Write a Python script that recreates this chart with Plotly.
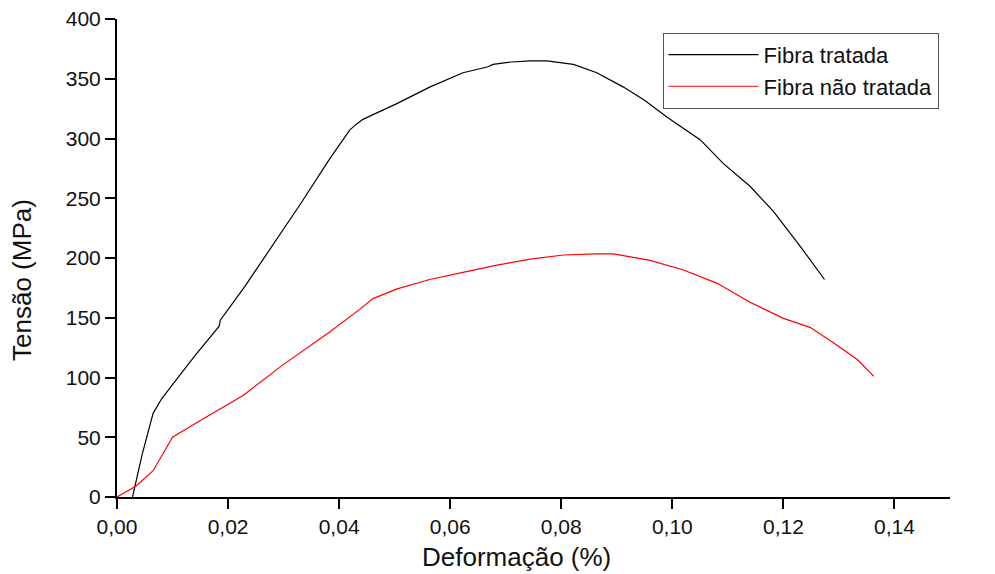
import plotly.graph_objects as go

# Fibra tratada (black)
x_tratada = [0.0028, 0.0045, 0.0065, 0.0080, 0.0100, 0.0140, 0.0184, 0.0186, 0.0230, 0.0275,
             0.0330, 0.0383, 0.0407, 0.0419, 0.0431, 0.0443, 0.0461, 0.0503, 0.0563, 0.0623,
             0.0668, 0.0677, 0.0710, 0.0744, 0.0774, 0.0822, 0.0864, 0.0912, 0.0950, 0.0990,
             0.1050, 0.1092, 0.1140, 0.1182, 0.1230, 0.1274]
y_tratada = [0, 35, 70, 82, 94, 118, 143, 148, 176, 207,
             245, 283, 299, 307, 312, 316, 320, 329, 343, 355,
             360, 362, 364, 365, 365, 362, 355, 343, 332, 318,
             299, 279, 260, 239, 210, 182]

# Fibra não tratada (red)
x_nao = [0.0000, 0.0035, 0.0065, 0.0080, 0.0100, 0.0150, 0.0227, 0.0300, 0.0383, 0.0437,
         0.0461, 0.0503, 0.0563, 0.0623, 0.0684, 0.0744, 0.0804, 0.0864, 0.0894, 0.0960,
         0.1020, 0.1080, 0.1140, 0.1200, 0.1248, 0.1290, 0.1333, 0.1363]
y_nao = [0, 9.5, 22, 34, 50, 64, 85, 111, 138, 157,
         166, 174, 182, 188, 194, 199, 202.5, 203.5, 203.5, 198,
         190, 179, 163, 149.5, 142, 129, 115, 101]

x_ticks = [0, 0.02, 0.04, 0.06, 0.08, 0.10, 0.12, 0.14]
y_ticks = [0, 50, 100, 150, 200, 250, 300, 350, 400]

x_title = "Deformação (%)"
y_title = "Tensão (MPa)"

font_family = "Liberation Sans, Arial, sans-serif"

fig = go.Figure()
fig.add_trace(go.Scatter(x=x_tratada, y=y_tratada, mode="lines", name="Fibra tratada",
                         line=dict(color="#000000", width=1.2)))
fig.add_trace(go.Scatter(x=x_nao, y=y_nao, mode="lines", name="Fibra não tratada",
                         line=dict(color="#ff0000", width=1.2)))

axis_common = dict(showline=True, linecolor="black", linewidth=2, ticks="outside",
                   ticklen=10, tickwidth=2, tickcolor="black", showgrid=False, zeroline=False,
                   tickfont=dict(family=font_family, size=21, color="#111"),
                   ticklabeloverflow="allow",
                   mirror=False, automargin=False)

fig.update_layout(
    width=995, height=574,
    paper_bgcolor="white", plot_bgcolor="white",
    margin=dict(l=109, r=53, t=11, b=85),
    separators=",.",
    font=dict(family=font_family),
    xaxis=dict(range=[0, 0.15], tickvals=x_ticks, tickformat=".2f", **axis_common),
    yaxis=dict(range=[0, 400], tickvals=y_ticks, **axis_common),
    legend=dict(x=0.655, y=0.971, xanchor="left", yanchor="top",
                bordercolor="#555", borderwidth=1, bgcolor="white",
                font=dict(family=font_family, size=22, color="#111"),
                itemwidth=90, tracegroupgap=0),
    showlegend=True,
    annotations=[
        dict(text=x_title, xref="paper", yref="paper", x=0.48, y=0, yshift=-60,
             xanchor="center", yanchor="middle", showarrow=False,
             font=dict(family=font_family, size=26, color="#111")),
        dict(text=y_title, xref="paper", yref="paper", x=0, y=0.454, xshift=-95,
             xanchor="center", yanchor="middle", textangle=-90, showarrow=False,
             font=dict(family=font_family, size=26, color="#111")),
    ],
)

fig.write_html("out.html")
